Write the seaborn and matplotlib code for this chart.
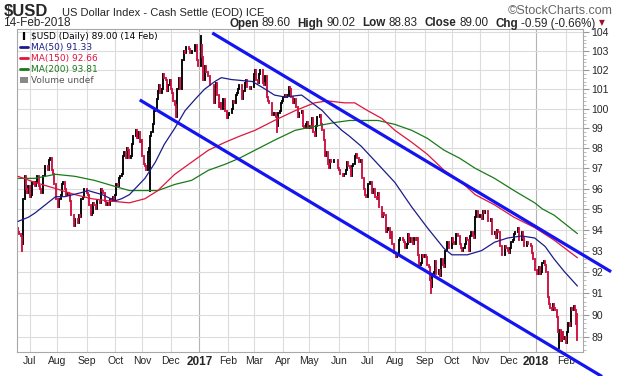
import numpy as np
import pandas as pd
import matplotlib
matplotlib.use("Agg")
import matplotlib.pyplot as plt
import seaborn as sb
from matplotlib.lines import Line2D
from matplotlib.patches import Patch
from matplotlib.ticker import FixedLocator, NullFormatter, FuncFormatter

sb.set_style("white")
plt.rcParams["font.family"] = ["Liberation Sans", "DejaVu Sans"]

# daily closes of $USD, one list per month
jun16 = [93.9, 93.8, 93.7, 93.3, 95.5, 96.6, 96.0, 95.8, 96.1]
jul16 = [95.6, 95.7, 96.3, 96.2, 96.1, 96.3, 96.6, 96.1, 96.0, 95.8, 96.6,
         96.6, 97.1, 97.1, 96.9, 97.4, 97.5, 96.9, 96.7, 96.2, 95.5]
aug16 = [95.5, 95.1, 95.5, 95.7, 96.2, 96.3, 96.0, 95.7, 95.8, 95.7, 95.4, 94.7,
         94.7, 94.2, 94.5, 94.5, 94.3, 94.7, 94.6, 95.5, 95.6, 96.0, 96.0]
sep16 = [95.8, 95.7, 95.2, 94.7, 94.8, 95.3, 95.2, 95.0, 95.4, 95.4, 95.3,
         96.0, 95.9, 95.8, 95.4, 95.2, 95.3, 95.2, 95.5, 95.4, 95.6, 95.4]
oct16 = [95.7, 96.2, 96.1, 96.5, 96.6, 96.7, 97.6, 97.8, 97.5, 98.0, 97.9,
         97.5, 97.6, 98.2, 98.6, 98.6, 98.9, 98.5, 98.8, 98.3, 98.4]
nov16 = [97.6, 97.2, 97.1, 96.9, 97.8, 98.0, 98.6, 98.8, 99.2, 99.9, 100.0,
         100.5, 100.9, 101.2, 100.8, 101.0, 101.8, 101.6, 101.5, 100.9, 101.2, 101.5]
dec16 = [101.0, 100.8, 100.4, 100.2, 99.6, 101.0, 101.6, 101.0, 101.0, 102.5, 103.0,
         102.9, 103.2, 103.2, 103.1, 102.9, 103.0, 103.0, 103.0, 103.3, 102.5, 102.2]
jan17 = [102.2, 103.3, 102.7, 101.5, 102.2, 101.9, 101.9, 101.7, 101.2, 101.2, 101.2,
         100.3, 101.1, 101.3, 100.7, 100.1, 100.3, 100.0, 100.5, 100.5, 99.9, 99.5]
feb17 = [99.7, 99.8, 99.8, 100.0, 100.4, 100.3, 100.7, 100.8, 101.0, 101.2,
         101.2, 100.5, 100.9, 101.3, 101.5, 101.1, 101.1, 101.0, 101.1, 101.1]
mar17 = [101.8, 102.0, 101.5, 101.3, 101.8, 102.0, 102.0, 101.3, 101.2, 101.7, 100.6, 100.4,
         100.3, 100.3, 99.7, 99.7, 99.8, 99.6, 99.1, 99.8, 99.9, 100.3, 100.4]
apr17 = [100.6, 100.7, 100.6, 100.7, 101.1, 101.0, 100.6, 100.3, 100.5, 100.5,
         100.1, 99.6, 99.8, 99.8, 99.9, 99.1, 99.0, 99.2, 99.3, 99.0]
may17 = [99.1, 99.0, 99.5, 98.8, 98.6, 99.1, 99.6, 99.6, 99.7, 99.2, 98.9, 98.4,
         97.6, 97.8, 97.2, 97.0, 97.4, 97.3, 97.3, 97.4, 97.4, 97.4, 97.0]
jun17 = [96.9, 96.7, 96.7, 96.6, 96.7, 96.9, 97.3, 97.1, 97.0, 96.6, 97.1,
         97.2, 97.6, 97.7, 97.5, 97.3, 97.3, 97.4, 96.5, 96.0, 95.7, 95.6]
jul17 = [96.2, 96.2, 96.3, 95.8, 96.0, 96.0, 95.6, 95.5, 95.8, 95.1, 95.1,
         94.6, 94.8, 94.7, 93.9, 94.0, 94.1, 93.6, 93.9, 93.3, 92.9]
aug17 = [92.9, 92.7, 92.8, 93.5, 93.6, 93.6, 93.5, 93.4, 93.1, 93.3, 93.8, 93.4,
         93.6, 93.4, 93.3, 93.6, 93.5, 93.6, 92.8, 92.3, 92.4, 92.8, 92.7]
sep17 = [92.8, 92.7, 92.3, 92.2, 91.6, 91.3, 91.9, 92.0, 92.5, 91.9, 91.9,
         92.1, 91.8, 92.6, 92.3, 92.2, 93.0, 93.4, 93.4, 93.1, 93.1]
oct17 = [93.6, 93.4, 93.3, 93.8, 93.8, 93.7, 93.3, 93.1, 93.0, 93.1, 93.3,
         93.6, 93.5, 93.0, 93.7, 93.9, 93.7, 93.6, 94.6, 94.9, 94.6, 94.6]
nov17 = [94.7, 94.5, 94.9, 94.8, 94.9, 94.9, 94.4, 94.4, 94.5, 93.8, 93.8,
         93.9, 93.6, 94.0, 93.9, 93.2, 93.2, 92.8, 92.8, 93.2, 93.1, 93.0]
dec17 = [92.9, 93.1, 93.4, 93.5, 93.8, 93.9, 93.9, 94.1, 93.5, 93.5, 93.9,
         93.6, 93.2, 93.2, 93.4, 93.3, 93.3, 93.2, 92.9, 92.6, 92.1]
jan18 = [92.1, 91.9, 92.2, 91.9, 92.0, 92.4, 92.5, 92.3, 92.0, 90.8, 90.5, 90.3,
         90.2, 90.5, 90.3, 90.2, 89.9, 89.2, 89.3, 88.8, 89.2, 88.9, 89.0]
feb18 = [88.7, 89.2, 89.6, 89.5, 90.3, 90.2, 90.4, 90.2, 89.59, 89.0]

closes = (jun16 + jul16 + aug16 + sep16 + oct16 + nov16 + dec16 + jan17 + feb17
          + mar17 + apr17 + may17 + jun17 + jul17 + aug17 + sep17 + oct17 + nov17
          + dec17 + jan18 + feb18)
last_day = "2018-02-14"
first_open = 94.1
day_open, day_high, day_low = 89.60, 90.02, 88.83

# intraday extremes that stick out of the close-to-close range
extreme_days = ["2016-06-23", "2016-11-09", "2017-01-03", "2017-03-27",
                "2017-09-08", "2018-01-25", "2018-02-14", "2018-02-14"]
extreme_vals = [93.0, 95.9, 103.8, 98.8, 91.0, 88.5, 88.83, 90.02]

# moving averages, sampled along the chart (trading day number, value)
ma50_at = [0, 8, 13, 21, 29, 36, 49, 54, 65, 75, 80, 86, 98, 106, 113, 121, 129,
           137, 144, 152, 157, 165, 181, 191, 198, 206, 219, 227, 235, 242, 250,
           256, 265, 278, 291, 304, 316, 329, 335, 347, 358, 368, 378, 389, 399,
           407, 414, 422, 432]
ma50 = [94.4, 94.6, 94.8, 95.2, 95.6, 95.6, 95.8, 95.9, 95.7, 95.4, 95.5, 95.7,
        96.5, 97.3, 98.2, 99.0, 99.9, 100.5, 101.0, 101.4, 101.6, 101.5, 101.4,
        101.0, 100.7, 100.6, 100.7, 100.3, 99.9, 99.4, 98.9, 98.6, 98.1, 97.2,
        96.3, 95.1, 94.1, 93.1, 92.8, 92.8, 93.0, 93.4, 93.6, 93.7, 93.6, 93.2,
        92.6, 92.0, 91.33]
ma150_at = [0, 13, 29, 44, 57, 69, 86, 98, 108, 121, 134, 147, 160, 171, 183, 198,
            214, 229, 239, 252, 260, 270, 281, 291, 304, 316, 329, 341, 353, 368,
            383, 399, 414, 432]
ma150 = [96.6, 96.3, 96.0, 95.7, 95.5, 95.4, 95.3, 95.5, 95.9, 96.7, 97.3, 97.9,
         98.3, 98.6, 98.9, 99.4, 99.9, 100.3, 100.4, 100.3, 100.3, 99.9, 99.5,
         98.9, 98.3, 97.7, 96.9, 96.4, 95.7, 95.2, 94.6, 94.1, 93.5, 92.66]
ma200_at = [0, 13, 29, 44, 59, 75, 86, 98, 108, 121, 134, 147, 160, 171, 183, 198,
            214, 229, 245, 256, 265, 278, 291, 304, 316, 329, 341, 353, 368, 383,
            399, 405, 414, 432]
ma200 = [96.5, 96.5, 96.7, 96.6, 96.4, 96.1, 95.9, 95.9, 95.9, 96.2, 96.4, 96.9,
         97.2, 97.5, 97.9, 98.4, 98.9, 99.1, 99.3, 99.4, 99.4, 99.4, 99.2, 98.9,
         98.5, 97.9, 97.5, 97.0, 96.5, 95.9, 95.3, 95.0, 94.7, 93.81]

# hand drawn channel
upper_days = ["2017-01-16", "2018-03-22"]
upper_vals = [103.95, 92.0]
lower_days = ["2016-10-28", "2018-03-13"]
lower_vals = [100.45, 87.2]

price_ticks = list(range(89, 105))

up_col = "black"
down_col = "#cc1040"
c50, c150, c200 = "#1c1c8c", "#e0143c", "#1a7a1a"
chan_col = "#1414f0"
grid_col = "#dcdcdc"

dates = pd.bdate_range(end=last_day, periods=len(closes))
x = np.arange(len(closes))


def tday(d):
    return int(np.busday_count(dates[0].date(), pd.Timestamp(d).date()))


close = np.array(closes)
prev = np.concatenate([[first_open], close[:-1]])
lo = np.minimum(prev, close)
hi = np.maximum(prev, close)
for d, v in zip(extreme_days, extreme_vals):
    i = tday(d)
    lo[i] = min(lo[i], v)
    hi[i] = max(hi[i], v)
up = close >= prev

fig = plt.figure(figsize=(6.2, 3.76), dpi=100)
ax = fig.add_axes([17 / 620, 1 - 352 / 376, 566 / 620, 323 / 376])
ax.set_yscale("log")

# month grid
is_first = np.r_[False, dates.month[1:] != dates.month[:-1]]
month_pos = x[is_first]
month_lab = [dates[i].strftime("%Y") if dates[i].month == 1 else dates[i].strftime("%b")
             for i in month_pos]
for p, d in zip(month_pos, month_lab):
    ax.axvline(p, color="#b4b4b4" if d.isdigit() else grid_col, lw=0.8, zorder=0)

bars_up = ax.vlines(x[up], lo[up], hi[up], colors=up_col, lw=1.35, zorder=2)
bars_dn = ax.vlines(x[~up], lo[~up], hi[~up], colors=down_col, lw=1.35, zorder=2)
bars_up.set_capstyle("projecting")
bars_dn.set_capstyle("projecting")

sb.lineplot(x=ma200_at, y=ma200, ax=ax, color=c200, lw=0.9, zorder=3)
sb.lineplot(x=ma150_at, y=ma150, ax=ax, color=c150, lw=0.9, zorder=3)
sb.lineplot(x=ma50_at, y=ma50, ax=ax, color=c50, lw=0.9, zorder=3)

ax.plot([tday(d) for d in upper_days], upper_vals, color=chan_col, lw=2.3,
        clip_on=False, zorder=4, solid_capstyle="butt")
ax.plot([tday(d) for d in lower_days], lower_vals, color=chan_col, lw=2.3,
        clip_on=False, zorder=4, solid_capstyle="butt")

ax.set_xlim(-0.8, 436.3)
ax.set_ylim(88.3, 104.16)
ax.set_xlabel("")
ax.set_ylabel("")

ax.yaxis.tick_right()
ax.yaxis.set_major_locator(FixedLocator(price_ticks))
ax.yaxis.set_major_formatter(FuncFormatter(lambda v, p: f"{v:.0f}"))
ax.yaxis.set_minor_locator(FixedLocator(np.arange(88.4, 104.2, 0.2)))
ax.yaxis.set_minor_formatter(NullFormatter())
ax.grid(axis="y", which="major", color=grid_col, lw=0.8)
ax.set_axisbelow(True)
ax.tick_params(axis="y", which="major", right=True, length=4, width=0.8,
               color="#999999", labelsize=7.5, pad=2)
ax.tick_params(axis="y", which="minor", right=True, length=2, width=0.6, color="#b0b0b0")

ax.set_xticks(month_pos)
ax.set_xticklabels(month_lab)
ax.tick_params(axis="x", length=0, labelsize=7.5, pad=3)
for t in ax.get_xticklabels():
    if t.get_text().isdigit():
        t.set_fontweight("bold")
        t.set_fontsize(8.5)

for s in ax.spines.values():
    s.set_color("#a8a8a8")
    s.set_linewidth(0.8)

# legend block
handles = [
    Line2D([], [], color="black", lw=0, marker="|", markersize=6, markeredgewidth=1.6),
    Line2D([], [], color=c50, lw=2),
    Line2D([], [], color=c150, lw=2),
    Line2D([], [], color=c200, lw=2),
    Patch(facecolor="#888888", edgecolor="none"),
]
labels = [
    f"\\$USD (Daily) {close[-1]:.2f} ({dates[-1].day} {dates[-1].strftime('%b')})",
    f"MA(50) {ma50[-1]:.2f}",
    f"MA(150) {ma150[-1]:.2f}",
    f"MA(200) {ma200[-1]:.2f}",
    "Volume undef",
]
ax.legend(handles, labels, loc="upper left", bbox_to_anchor=(0.0, 1.0),
          frameon=False, prop={"family": "DejaVu Sans", "size": 6.5},
          labelcolor=["black", c50, c150, c200, "#555555"],
          handlelength=0.9, handleheight=0.6, handletextpad=0.25,
          labelspacing=0.22, borderaxespad=0.25, borderpad=0.1)

# header
fig.text(4 / 620, 1 - 15.5 / 376, "\\$USD", fontsize=12, fontweight="bold", va="baseline")
fig.text(62 / 620, 1 - 15.5 / 376, "US Dollar Index - Cash Settle (EOD) ICE",
         fontsize=8, va="baseline")
fig.text(613 / 620, 1 - 14.5 / 376, "\u00a9StockCharts.com", fontsize=9,
         color="#666666", va="baseline", ha="right")
fig.text(3 / 620, 1 - 26.5 / 376, dates[-1].strftime("%d-%b-%Y"), fontsize=8.5, va="baseline")

chg = close[-1] - close[-2]
pct = chg / close[-2] * 100
pieces = [("Open", "bold", 3), (f"{day_open:.2f}", "normal", 7),
          ("High", "bold", 3), (f"{day_high:.2f}", "normal", 7),
          ("Low", "bold", 3), (f"{day_low:.2f}", "normal", 7),
          ("Close", "bold", 3), (f"{close[-1]:.2f}", "normal", 7),
          ("Chg", "bold", 3), (f"{chg:.2f} ({pct:.2f}%)", "normal", 4)]
renderer = fig.canvas.get_renderer()
xpos = 229 / 620
for txt, w, gap in pieces:
    t = fig.text(xpos, 1 - 26.5 / 376, txt, fontsize=8.4, fontweight=w, va="baseline")
    xpos += t.get_window_extent(renderer).width / fig.bbox.width + gap / 620
fig.text(xpos, 1 - 25.5 / 376, "\u25bc", fontsize=5.5, color="#a0102a", va="baseline",
         family=["DejaVu Sans"])

fig.savefig("out.png", dpi=100)
